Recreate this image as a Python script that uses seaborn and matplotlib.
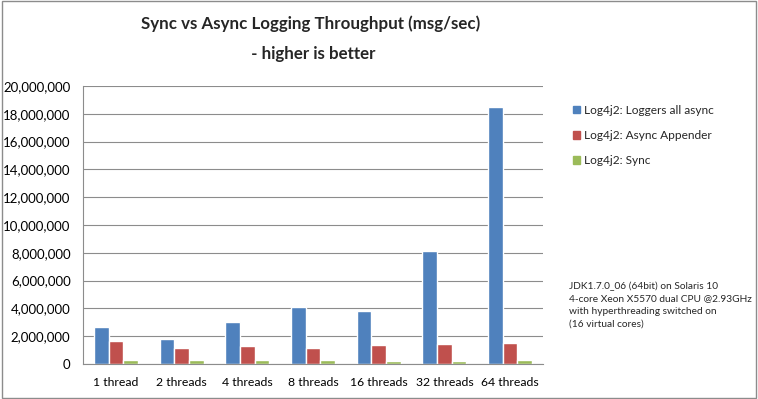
import matplotlib
matplotlib.use('Agg')
import matplotlib.pyplot as plt
import matplotlib.ticker as mticker
import seaborn as sns
import pandas as pd

# データ
threads = ['1 thread', '2 threads', '4 threads', '8 threads', '16 threads', '32 threads', '64 threads']
series_names = ['Log4j2: Loggers all async', 'Log4j2: Async Appender', 'Log4j2: Sync']
all_async = [2650000, 1780000, 3040000, 4120000, 3790000, 8130000, 18490000]
async_appender = [1680000, 1170000, 1300000, 1170000, 1370000, 1460000, 1510000]
sync = [270000, 270000, 270000, 270000, 220000, 220000, 270000]
colors = ['#4F81BD', '#C0504D', '#9BBB59']
note_lines = [
    'JDK1.7.0_06 (64bit) on Solaris 10',
    '4-core Xeon X5570 dual CPU @2.93GHz',
    'with hyperthreading switched on',
    '(16 virtual cores)',
]


def main():
    rows = []
    for name, vals in zip(series_names, [all_async, async_appender, sync]):
        for t, v in zip(threads, vals):
            rows.append({'threads': t, 'series': name, 'value': v})
    df = pd.DataFrame(rows)

    sns.set_theme(style='white')
    plt.rcParams['font.family'] = ['Lato', 'DejaVu Sans']

    fig = plt.figure(figsize=(7.58, 3.99), dpi=100)
    ax = fig.add_axes([83 / 758, 1 - 364 / 399, 460 / 758, 278 / 399])

    sns.barplot(data=df, x='threads', y='value', hue='series', order=threads,
                hue_order=series_names, palette=colors, width=0.67,
                saturation=1, ax=ax, legend=False)

    ax.set_ylim(0, 20000000)
    ax.set_yticks(range(0, 20000001, 2000000))
    ax.yaxis.set_major_formatter(mticker.StrMethodFormatter('{x:,.0f}'))
    ax.grid(axis='y', color='#8c8c8c', linewidth=0.8)
    ax.set_axisbelow(True)
    for s in ['top', 'right']:
        ax.spines[s].set_visible(False)
    for s in ['left', 'bottom']:
        ax.spines[s].set_color('#8c8c8c')
        ax.spines[s].set_linewidth(0.8)
    ax.tick_params(axis='y', labelsize=9.5, colors='black', length=0, pad=9)
    ax.tick_params(axis='x', labelsize=8.8, colors='black', length=0, pad=9)
    ax.set_xlabel('')
    ax.set_ylabel('')

    # タイトル
    fig.text(311 / 758, 1 - 39 / 399, 'Sync vs Async Logging Throughput (msg/sec)\n - higher is better',
             ha='center', va='center', fontsize=12.2, fontweight='bold', linespacing=2.05)

    # 凡例
    handles = [plt.Rectangle((0, 0), 1, 1, color=c) for c in colors]
    fig.legend(handles, series_names, loc='upper left', bbox_to_anchor=(562 / 758, 1 - 94 / 399),
               frameon=False, fontsize=8.6, handlelength=0.6, handleheight=0.6,
               handletextpad=0.3, labelspacing=1.2)

    # 注記
    fig.text(569 / 758, 1 - 305 / 399, '\n'.join(note_lines), ha='left', va='center',
             fontsize=7.3, linespacing=1.5)

    # 外枠
    fig.patches.append(plt.Rectangle((0.002, 0.003), 0.996, 0.994, transform=fig.transFigure,
                                     fill=False, edgecolor='#8c8c8c', linewidth=1))

    fig.savefig('out.png', dpi=100)


if __name__ == '__main__':
    main()
